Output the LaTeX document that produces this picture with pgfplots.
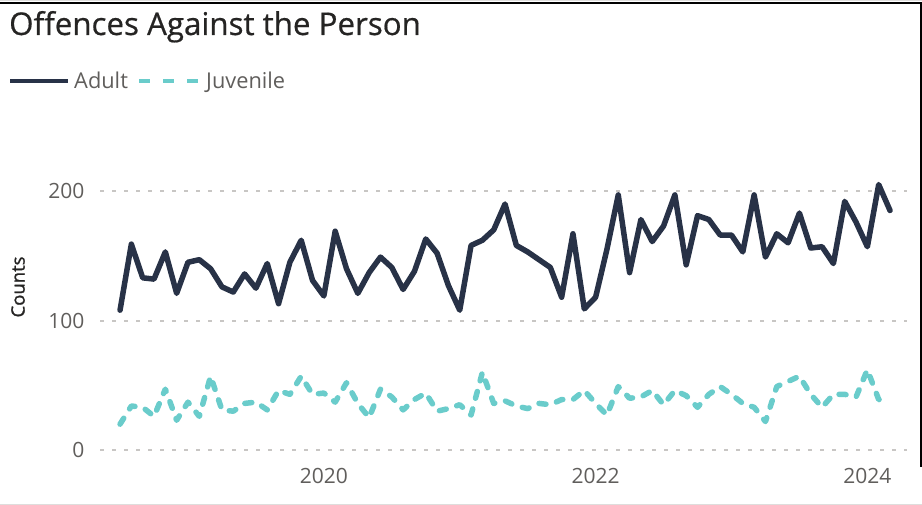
\documentclass[border=0pt]{standalone}
\usepackage{fontspec}
\setmainfont{Open Sans}
\newfontfamily\titlefont{Open Sans}[FakeBold=0.6]
\newfontfamily\labfont{Open Sans}[FakeBold=1.2]
\usepackage{pgfplots}
\pgfplotsset{compat=1.18}
\definecolor{adultc}{HTML}{283247}
\definecolor{juvc}{HTML}{6ACCCB}
\definecolor{titlec}{HTML}{252423}
\definecolor{labc}{HTML}{605E5C}
\definecolor{gridc}{HTML}{C8C6C4}
\pgfplotstableread{
i adult juv
0 108 20
1 159 34
2 133 33
3 132 26
4 153 47
5 121 23
6 145 37
7 147 26
8 140 57
9 126 31
10 122 30
11 136 36
12 125 37
13 144 31
14 113 46
15 145 43
16 162 57
17 131 43
18 119 44
19 169 37
20 140 52
21 121 36
22 137 25
23 149 47
24 141 41
25 124 31
26 138 39
27 163 44
28 152 30
29 127 32
30 108 35
31 158 27
32 162 60
33 170 36
34 190 38
35 158 34
36 153 32
37 147 36
38 141 35
39 118 39
40 167 39
41 109 46
42 118 36
43 155 27
44 197 49
45 137 40
46 178 41
47 161 46
48 173 35
49 197 46
50 143 42
51 181 33
52 178 43
53 166 49
54 166 43
55 153 36
56 197 33
57 149 22
58 167 49
59 160 53
60 183 57
61 156 43
62 157 33
63 144 43
64 192 43
65 176 41
66 157 62
67 205 39
68 185 39
}\datatable
\begin{document}
\begin{tikzpicture}[x=1pt,y=1pt]
\path[use as bounding box] (0,0) rectangle (922,505);
% frame
\draw[gridc!60, line width=1pt] (0,504.5) -- (922,504.5);
\draw[black, line width=2pt] (0,501.5) -- (921,501.5);
\draw[black, line width=2pt] (920.5,502.5) -- (920.5,38);
\draw[gridc!60, line width=1pt] (0,0.5) -- (922,0.5);
% title
\node[anchor=base west, inner sep=0pt, text=titlec] at (9,470) {\titlefont\fontsize{31.3}{37}\selectfont Offences Against the Person};
% legend
\draw[adultc, line width=4pt] (10,424) -- (68,424);
\node[anchor=base west, inner sep=0pt, text=labc] at (74,416) {\fontsize{21.8}{25}\selectfont Adult};
\draw[juvc, line width=4pt, dash pattern=on 11pt off 13pt] (139,424) -- (201,424);
\node[anchor=base west, inner sep=0pt, text=labc] at (206,416) {\fontsize{21.8}{25}\selectfont Juvenile};
% y label
\node[rotate=90, text=titlec, inner sep=0pt] at (18,218) {\labfont\fontsize{18.5}{22}\selectfont Counts};
\begin{axis}[
  at={(100pt,42pt)}, anchor=south west,
  scale only axis, width=807pt, height=310.8pt,
  xmin=-1.77, xmax=69.5, ymin=-10, ymax=230,
  axis line style={draw=none},
  major tick style={draw=none},
  ymajorgrids,
  grid style={gridc, line width=2pt, dash pattern=on 4pt off 8pt},
  xtick={18,42,66}, xticklabels={2020,2022,2024},
  ytick={0,100,200},
  /pgf/number format/assume math mode=true,
  tick label style={text=labc, font=\fontsize{21}{25}\selectfont},
  yticklabel style={xshift=-12pt},
  xticklabel style={yshift=-2pt},
  clip=false,
]
\addplot[adultc, line width=5.5pt, line join=round, line cap=round] table[x=i, y=adult] {\datatable};
\addplot[juvc, line width=5.5pt, line join=round, line cap=round, dash pattern=on 7pt off 11pt] table[x=i, y=juv] {\datatable};
\end{axis}
\end{tikzpicture}
\end{document}
